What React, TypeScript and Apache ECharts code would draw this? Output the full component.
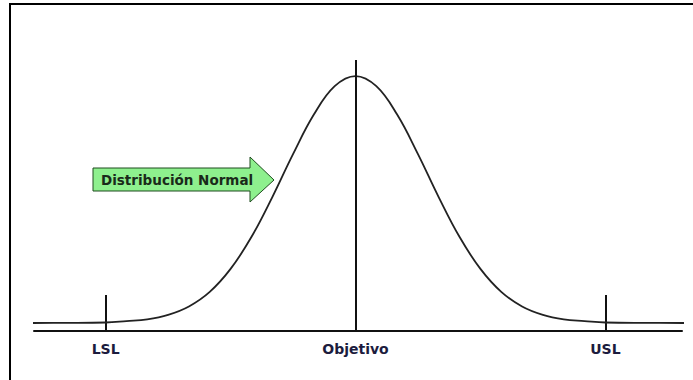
import React, { useEffect, useRef } from "react";
import * as echarts from "echarts";

// Positions along the process axis (LSL = -3, target = 0, USL = 3)
const curveX = [
  -3.9, -3.5, -3.0, -2.75, -2.5, -2.25, -2.0, -1.75, -1.5, -1.25, -1.0, -0.75, -0.5, -0.25, 0,
  0.25, 0.5, 0.75, 1.0, 1.25, 1.5, 1.75, 2.0, 2.25, 2.5, 2.75, 3.0, 3.5, 3.95,
];
// Relative height of the bell curve (peak = 100)
const curveY = [
  0, 0.05, 0.2, 0.8, 1.5, 3.3, 6.7, 12.6, 21.9, 34.8, 50.9, 68.4, 84.4, 95.9, 100,
  95.9, 84.4, 68.4, 50.9, 34.8, 21.9, 12.6, 6.7, 3.3, 1.5, 0.8, 0.2, 0.05, 0,
];

const limitValues = [-3, 3];
const tickValues = [-3, 0, 3];
const tickLabels = ["LSL", "Objetivo", "USL"];
const targetValue = 0;
const arrowText = "Distribución Normal";

export default function App() {
  const ref = useRef<HTMLDivElement>(null);

  useEffect(() => {
    if (!ref.current) return;
    const chart = echarts.init(ref.current, null, { renderer: "svg" });

    const points = curveX.map((x, i) => [x, curveY[i]]);

    chart.setOption({
      animation: false,
      backgroundColor: "#ffffff",
      grid: { left: 34, right: 11, top: 60, bottom: 49 },
      xAxis: {
        type: "value",
        min: -3.86,
        max: 3.92,
        splitLine: { show: false },
        axisLine: { show: true, onZero: false, lineStyle: { color: "#111", width: 2 } },
        axisTick: {
          show: true,
          inside: true,
          length: 36,
          customValues: limitValues,
          lineStyle: { color: "#111", width: 2 },
        },
        axisLabel: {
          show: true,
          margin: 11,
          customValues: tickValues,
          formatter: (v: number) => {
            const i = tickValues.findIndex((t) => Math.abs(t - v) < 1e-6);
            return i >= 0 ? tickLabels[i] : "";
          },
          fontFamily: "DejaVu Sans",
          fontWeight: "bold",
          fontSize: 14,
          color: "#1c1c3e",
        },
      },
      yAxis: {
        type: "value",
        min: -3.24,
        max: 106.5,
        show: false,
        splitLine: { show: false },
      },
      series: [
        {
          type: "line",
          data: points,
          smooth: 0.4,
          symbol: "none",
          clip: false,
          lineStyle: { color: "#222", width: 1.8 },
          markLine: {
            silent: true,
            symbol: "none",
            label: { show: false },
            lineStyle: { color: "#111", width: 2, type: "solid" },
            data: [{ xAxis: targetValue }],
          },
        },
      ],
      graphic: [
        {
          type: "rect",
          shape: { x: 10, y: 4, width: 720, height: 420 },
          style: { fill: "none", stroke: "#000", lineWidth: 2 },
          silent: true,
        },
        {
          type: "polygon",
          shape: {
            points: [
              [93, 168],
              [250, 168],
              [250, 157],
              [274, 180],
              [250, 202],
              [250, 191],
              [93, 191],
            ],
          },
          style: { fill: "#8ef08e", stroke: "#1f4d1f", lineWidth: 1 },
          silent: true,
        },
        {
          type: "text",
          x: 101,
          y: 180,
          style: {
            text: arrowText,
            font: "bold 13.5px 'DejaVu Sans'",
            fill: "#1a2a1a",
            verticalAlign: "middle",
            align: "left",
          },
          silent: true,
        },
      ],
    });

    return () => chart.dispose();
  }, []);

  return (
    <div
      ref={ref}
      style={{ position: "fixed", left: 0, top: 0, width: 693, height: 380 }}
    />
  );
}
